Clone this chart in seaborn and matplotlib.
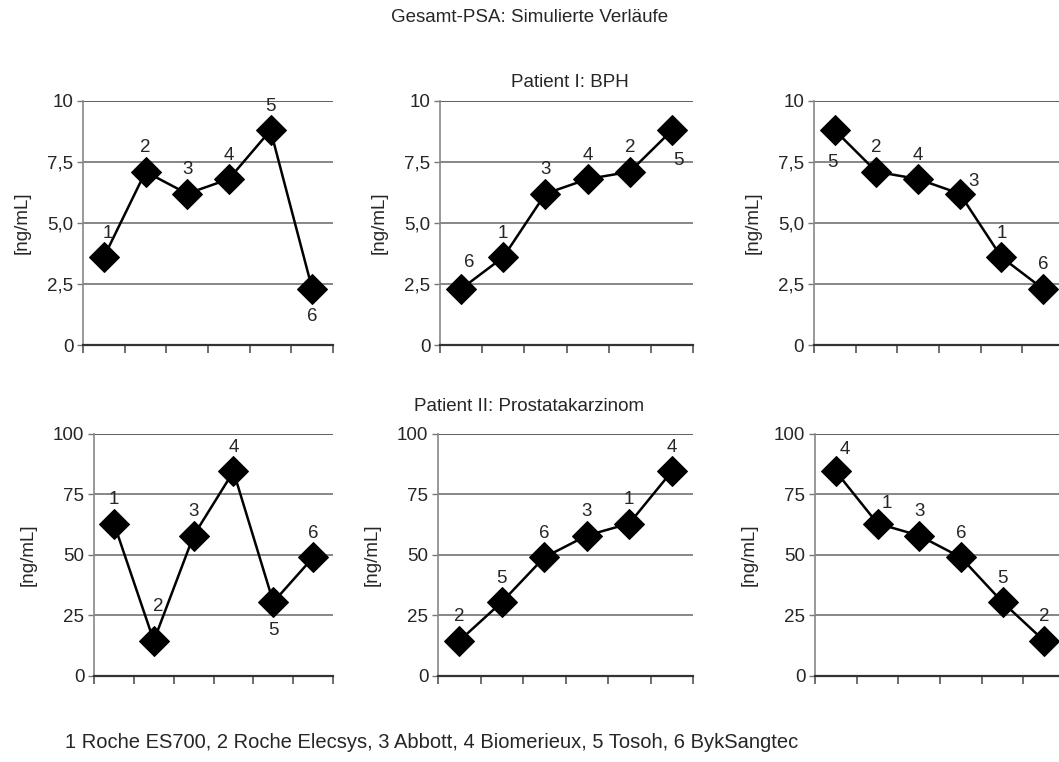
import numpy as np
import pandas as pd
import matplotlib
matplotlib.use('Agg')
import matplotlib.pyplot as plt
import seaborn as sns

# Daten: Gesamt-PSA je Hersteller (1..6)
hersteller = ['1', '2', '3', '4', '5', '6']
psa_bph = [3.6, 7.1, 6.2, 6.8, 8.8, 2.3]
psa_karzinom = [63, 14.5, 58, 84.5, 30.5, 49]

ticks_bph = [0, 2.5, 5.0, 7.5, 10]
ticklabels_bph = ['0', '2,5', '5,0', '7,5', '10']
ticks_ca = [0, 25, 50, 75, 100]
ticklabels_ca = ['0', '25', '50', '75', '100']

legende = '1 Roche ES700, 2 Roche Elecsys, 3 Abbott, 4 Biomerieux, 5 Tosoh, 6 BykSangtec'

sns.set_style('white')
plt.rcParams['font.family'] = ['Liberation Sans', 'DejaVu Sans']

fig = plt.figure(figsize=(10.59, 7.62), dpi=100)

# Positionen der Achsen (links, unten, breite, hoehe)
pos = {
    (0, 0): [0.0784, 0.5472, 0.2361, 0.3203],
    (0, 1): [0.4155, 0.5472, 0.2390, 0.3203],
    (0, 2): [0.7686, 0.5472, 0.2361, 0.3203],
    (1, 0): [0.0888, 0.1129, 0.2257, 0.3176],
    (1, 1): [0.4136, 0.1129, 0.2408, 0.3176],
    (1, 2): [0.7696, 0.1129, 0.2361, 0.3176],
}

# Beschriftungsversatz (Pixel) je Hersteller: oben/unten/rechts
O = (0, 24)
U = (0, -28)
offsets = {
    (0, 0): {'1': (4, 24), '2': O, '3': O, '4': O, '5': O, '6': U},
    (0, 1): {'6': (8, 26), '1': O, '3': O, '4': O, '2': O, '5': (6, -30)},
    (0, 2): {'5': (-2, -32), '2': O, '4': O, '3': (14, 12), '1': O, '6': O},
    (1, 0): {'1': O, '2': (4, 34), '3': O, '4': O, '5': U, '6': O},
    (1, 1): {'2': O, '5': O, '6': O, '3': O, '1': O, '4': O},
    (1, 2): {'4': (9, 22), '1': (9, 20), '3': O, '6': O, '5': O, '2': O},
}

fs = 13.5

reihen = [(psa_bph, ticks_bph, ticklabels_bph, 10),
          (psa_karzinom, ticks_ca, ticklabels_ca, 100)]

for r, (werte, ticks, tlabels, ymax) in enumerate(reihen):
    df = pd.DataFrame({'nr': hersteller, 'wert': werte})
    varianten = [df,
                 df.sort_values('wert', ascending=True),
                 df.sort_values('wert', ascending=False)]
    for c, d in enumerate(varianten):
        ax = fig.add_axes(pos[(r, c)])
        d = d.reset_index(drop=True)
        d['x'] = np.arange(len(d))
        sns.lineplot(data=d, x='x', y='wert', ax=ax, color='black',
                     marker='D', markersize=15, linewidth=1.8,
                     markeredgecolor='black', clip_on=False)
        for i, row in d.iterrows():
            ax.annotate(row['nr'], (row['x'], row['wert']),
                        xytext=offsets[(r, c)][row['nr']],
                        textcoords='offset pixels', ha='center', va='center',
                        fontsize=fs)
        ax.set_xlim(-0.5, 5.5)
        ax.set_ylim(0, ymax)
        ax.set_yticks(ticks)
        ax.set_yticklabels(tlabels, fontsize=fs)
        ax.set_xticks(np.arange(-0.5, 6, 1))
        ax.set_xticklabels([])
        ax.tick_params(axis='x', direction='out', length=6, width=1.2,
                       color='#555555', bottom=True)
        ax.tick_params(axis='y', direction='out', length=4, width=1,
                       color='#777777', left=True, pad=3)
        for t in ticks[1:]:
            ax.axhline(t, color='#333333' if t == ymax else '#666666',
                       linewidth=1.1, zorder=0)
        for s in ['top', 'right']:
            ax.spines[s].set_visible(False)
        ax.spines['left'].set_color('#888888')
        ax.spines['left'].set_linewidth(1.2)
        ax.spines['bottom'].set_color('#333333')
        ax.spines['bottom'].set_linewidth(1.6)
        ax.set_xlabel('')
        ax.set_ylabel('[ng/mL]', fontsize=fs, labelpad=12)

fig.text(0.50, 0.977, 'Gesamt-PSA: Simulierte Verläufe', ha='center', va='center', fontsize=fs)
fig.text(0.538, 0.892, 'Patient I: BPH', ha='center', va='center', fontsize=fs)
fig.text(0.50, 0.466, 'Patient II: Prostatakarzinom', ha='center', va='center', fontsize=fs)
fig.text(0.061, 0.025, legende, ha='left', va='center', fontsize=14.5)

fig.savefig('out.png', dpi=100)
